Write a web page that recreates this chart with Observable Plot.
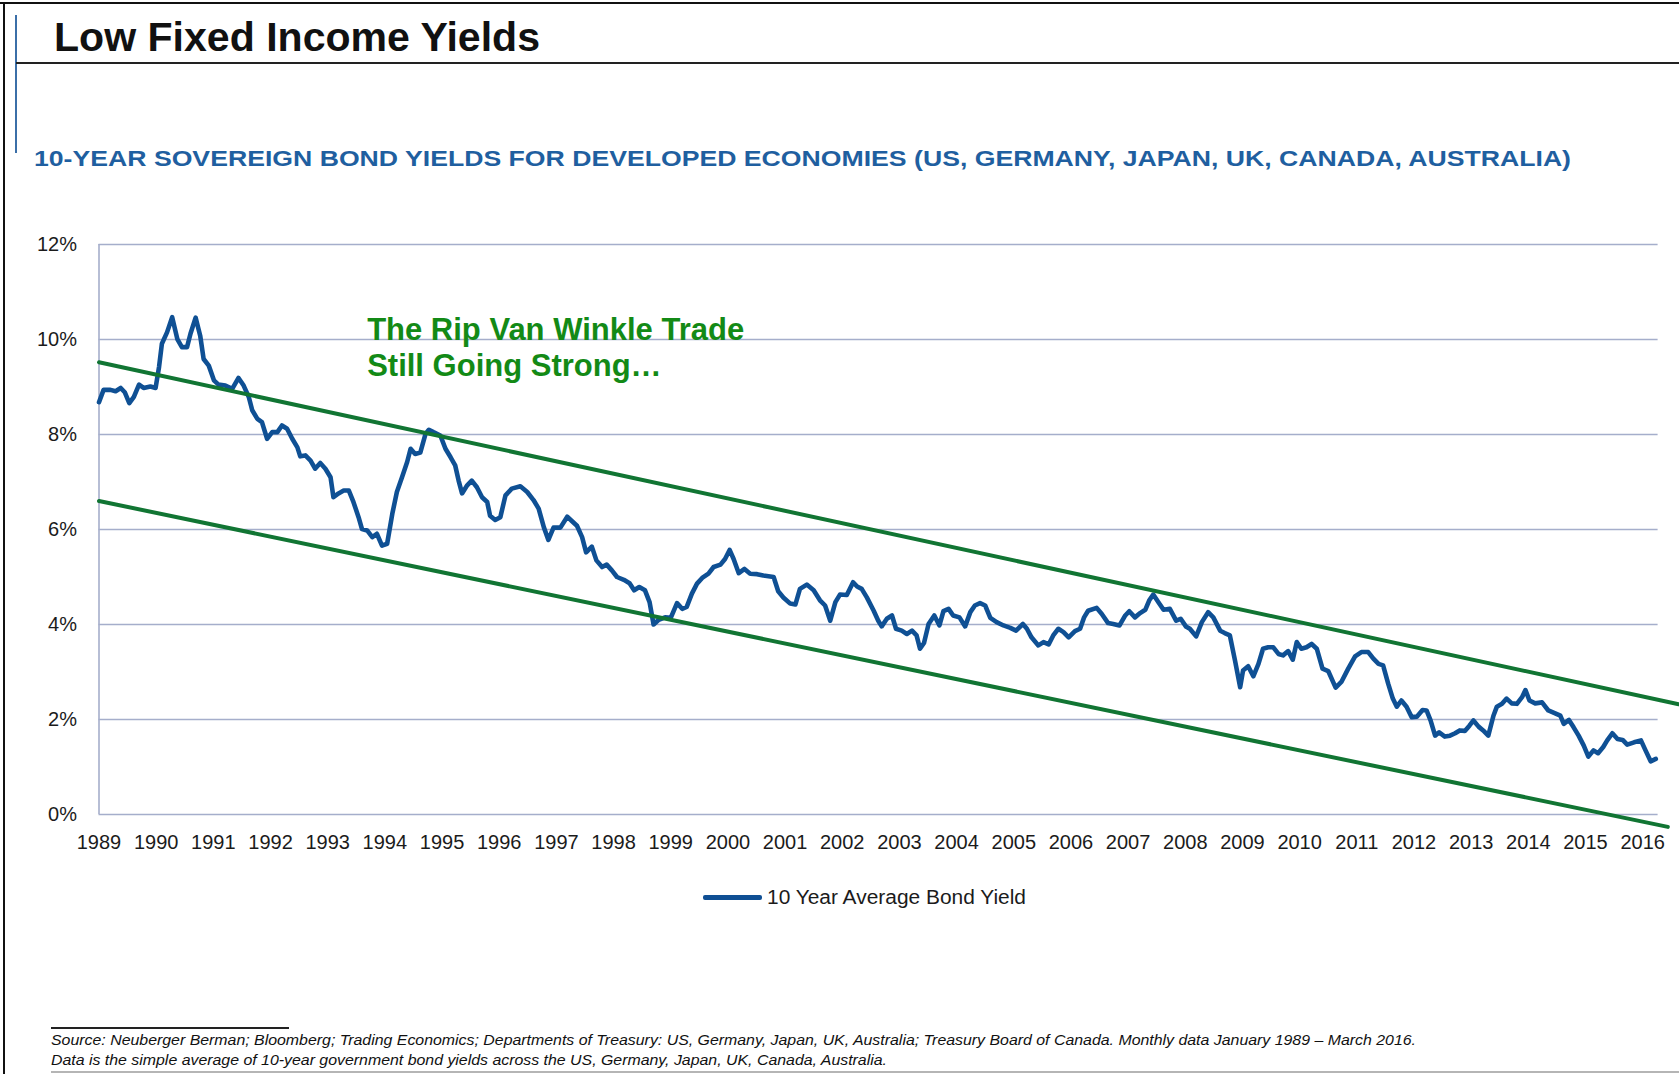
<!DOCTYPE html>
<html>
<head>
<meta charset="utf-8">
<script src="https://cdn.jsdelivr.net/npm/d3@7"></script>
<script src="https://cdn.jsdelivr.net/npm/@observablehq/plot@0.6"></script>
<style>
  html, body { margin: 0; padding: 0; background: #fff; }
  #page { position: relative; width: 1679px; height: 1074px; overflow: hidden; font-family: "Liberation Sans", Arial, sans-serif; }
  .abs { position: absolute; white-space: nowrap; transform-origin: 0 50%; }
  .rule { position: absolute; }
  #chart { position: absolute; left: 0; top: 200px; }
</style>
</head>
<body>
<div id="page">
  <div class="rule" style="left:0;top:2px;width:1679px;height:2px;background:#111;"></div>
  <div class="rule" style="left:3px;top:2px;width:2px;height:1072px;background:#111;"></div>
  <div class="rule" style="left:15px;top:15px;width:2px;height:138px;background:#3b6fa8;"></div>
  <div class="rule" style="left:16px;top:62px;width:1663px;height:1.5px;background:#222;"></div>
  <div id="title" class="abs" style="left:54px;top:17px;font-size:40px;line-height:40px;font-weight:bold;color:#111;">Low Fixed Income Yields</div>
  <div id="subtitle" class="abs" style="left:34px;top:148px;font-size:22px;line-height:22px;font-weight:bold;color:#1f5fa0;">10-YEAR SOVEREIGN BOND YIELDS FOR DEVELOPED ECONOMIES (US, GERMANY, JAPAN, UK, CANADA, AUSTRALIA)</div>
  <div id="chart"></div>
  <div class="rule" style="left:703px;top:894.5px;width:59px;height:5px;background:#0f4f94;border-radius:2px;"></div>
  <div id="legend" class="abs" style="left:767px;top:887px;font-size:20px;line-height:20px;color:#1b1b1b;">10 Year Average Bond Yield</div>
  <div class="rule" style="left:51px;top:1027px;width:238px;height:1.5px;background:#222;"></div>
  <div id="foot1" class="abs" style="left:51px;top:1033px;font-size:14px;line-height:14px;font-style:italic;color:#111;">Source: Neuberger Berman; Bloomberg; Trading Economics; Departments of Treasury: US, Germany, Japan, UK, Australia; Treasury Board of Canada. Monthly data January 1989 – March 2016.</div>
  <div id="foot2" class="abs" style="left:51px;top:1053px;font-size:14px;line-height:14px;font-style:italic;color:#111;">Data is the simple average of 10-year government bond yields across the US, Germany, Japan, UK, Canada, Australia.</div>
  <div class="rule" style="left:51px;top:1071px;width:1628px;height:2px;background:#b5b5b5;"></div>
</div>
<script>
const years = [
1989.00,1989.08,1989.20,1989.29,1989.38,1989.45,1989.53,1989.61,1989.70,1989.78,1989.90,1989.99,
1990.05,1990.10,1990.19,1990.28,1990.37,1990.45,1990.54,1990.60,1990.69,1990.77,1990.83,1990.92,
1991.01,1991.09,1991.21,1991.33,1991.44,1991.53,1991.62,1991.68,1991.77,1991.85,1991.94,
1992.03,1992.12,1992.20,1992.29,1992.38,1992.47,1992.52,1992.61,1992.70,1992.78,1992.87,1992.96,
1993.05,1993.10,1993.19,1993.28,1993.37,1993.45,1993.54,1993.60,1993.69,1993.78,1993.86,1993.95,
1994.04,1994.13,1994.21,1994.30,1994.39,1994.45,1994.53,1994.62,1994.71,1994.77,1994.85,1994.97,
1995.06,1995.15,1995.23,1995.29,1995.35,1995.44,1995.52,1995.61,1995.70,1995.79,1995.84,1995.93,
1996.02,1996.11,1996.22,1996.37,1996.49,1996.60,1996.69,1996.78,1996.86,1996.95,
1997.07,1997.19,1997.27,1997.36,1997.45,1997.52,1997.62,1997.70,1997.80,1997.88,1997.97,
1998.06,1998.18,1998.28,1998.36,1998.45,1998.55,1998.63,1998.70,1998.79,1998.90,
1999.00,1999.11,1999.20,1999.28,1999.37,1999.46,1999.55,1999.66,1999.75,1999.87,1999.95,
2000.03,2000.10,2000.19,2000.29,2000.39,2000.51,2000.62,2000.80,2000.88,2000.97,
2001.09,2001.18,2001.26,2001.38,2001.50,2001.61,2001.70,2001.79,2001.88,2001.96,
2002.08,2002.19,2002.26,2002.34,2002.43,2002.55,2002.63,2002.69,2002.78,2002.87,2002.94,
2003.04,2003.13,2003.22,2003.30,2003.36,2003.43,2003.51,2003.61,2003.70,2003.77,2003.86,2003.94,
2004.05,2004.15,2004.24,2004.32,2004.41,2004.50,2004.59,2004.70,2004.82,2004.94,
2005.04,2005.16,2005.23,2005.31,2005.43,2005.52,2005.61,2005.69,2005.78,2005.87,2005.96,
2006.07,2006.16,2006.23,2006.30,2006.45,2006.54,2006.65,2006.74,2006.85,2006.95,
2007.02,2007.12,2007.21,2007.30,2007.37,2007.44,2007.53,2007.62,2007.73,2007.84,2007.92,
2008.01,2008.08,2008.19,2008.29,2008.40,2008.49,2008.61,2008.69,2008.78,2008.87,2008.96,
2009.01,2009.10,2009.19,2009.28,2009.36,2009.45,2009.54,2009.63,2009.71,2009.80,2009.88,2009.95,
2010.03,2010.12,2010.21,2010.30,2010.40,2010.50,2010.63,2010.73,2010.85,2010.97,
2011.08,2011.20,2011.29,2011.38,2011.46,2011.55,2011.63,2011.70,2011.78,2011.87,2011.96,
2012.05,2012.15,2012.22,2012.29,2012.37,2012.44,2012.54,2012.63,2012.72,2012.80,2012.89,2012.97,
2013.04,2013.13,2013.21,2013.30,2013.39,2013.45,2013.54,2013.62,2013.71,2013.80,2013.89,2013.95,
2014.02,2014.12,2014.24,2014.35,2014.47,2014.56,2014.62,2014.71,2014.79,2014.88,2014.97,
2015.05,2015.14,2015.22,2015.31,2015.38,2015.47,2015.56,2015.65,2015.73,2015.85,2015.97,
2016.05,2016.14,2016.23
];
const yields = [
8.68,8.94,8.94,8.91,8.98,8.89,8.66,8.79,9.05,8.98,9.01,8.98,
9.42,9.91,10.15,10.47,10.01,9.84,9.84,10.12,10.46,10.08,9.59,9.45,
9.14,9.05,9.03,8.96,9.19,9.03,8.79,8.51,8.33,8.26,7.91,
8.05,8.05,8.19,8.12,7.91,7.73,7.54,7.56,7.45,7.28,7.40,7.28,
7.10,6.68,6.76,6.82,6.82,6.58,6.26,6.01,5.98,5.84,5.91,5.66,
5.70,6.33,6.79,7.10,7.42,7.70,7.59,7.62,8.01,8.10,8.05,7.98,
7.70,7.52,7.35,7.03,6.76,6.93,7.03,6.89,6.68,6.58,6.29,6.20,
6.26,6.72,6.86,6.91,6.79,6.62,6.44,6.05,5.78,6.04,
6.04,6.27,6.18,6.08,5.84,5.52,5.64,5.35,5.21,5.26,5.14,
5.00,4.94,4.87,4.72,4.79,4.72,4.47,4.00,4.10,4.15,
4.14,4.45,4.33,4.37,4.65,4.86,4.98,5.07,5.21,5.26,5.38,
5.57,5.38,5.08,5.17,5.07,5.06,5.03,5.00,4.70,4.57,
4.44,4.42,4.75,4.84,4.72,4.51,4.40,4.08,4.47,4.63,
4.62,4.89,4.80,4.75,4.57,4.29,4.08,3.96,4.12,4.19,3.91,
3.87,3.80,3.87,3.77,3.49,3.61,4.01,4.19,3.98,4.28,4.33,4.19,
4.15,3.96,4.26,4.40,4.45,4.40,4.14,4.05,3.98,3.93,
3.87,4.01,3.91,3.73,3.56,3.63,3.58,3.77,3.91,3.84,3.73,
3.86,3.91,4.15,4.29,4.35,4.22,4.03,4.01,3.98,4.19,
4.28,4.15,4.24,4.31,4.51,4.63,4.47,4.31,4.33,4.08,4.12,
3.96,3.91,3.75,4.05,4.26,4.15,3.87,3.82,3.77,3.24,2.68,
3.03,3.12,2.91,3.17,3.49,3.52,3.52,3.38,3.35,3.44,3.26,3.63,
3.49,3.52,3.59,3.49,3.07,3.02,2.67,2.79,3.07,3.33,
3.42,3.42,3.28,3.17,3.14,2.75,2.44,2.27,2.40,2.27,2.05,
2.06,2.20,2.19,1.98,1.66,1.73,1.64,1.66,1.71,1.77,1.76,1.87,
1.98,1.85,1.77,1.66,2.08,2.27,2.33,2.44,2.34,2.33,2.47,2.62,
2.40,2.34,2.36,2.19,2.13,2.08,1.91,1.99,1.84,1.66,1.45,
1.22,1.35,1.29,1.42,1.56,1.71,1.59,1.57,1.47,1.52,1.56,
1.35,1.12,1.17
];
const upperTrendYears = [1989, 2016.63];
const upperTrendValues = [9.52, 2.32];
const lowerTrendYears = [1989, 2016.44];
const lowerTrendValues = [6.60, -0.26];
const yearTicks = d3.range(1989, 2017);
const yTicks = [0, 2, 4, 6, 8, 10, 12];
const annotationLines = ["The Rip Van Winkle Trade", "Still Going Strong…"];
const annotationX = [1993.69, 1993.69];
const annotationY = [10.19, 9.43];

const series = years.map((t, i) => ({t, v: yields[i]}));
const upper = upperTrendYears.map((t, i) => ({t, v: upperTrendValues[i]}));
const lower = lowerTrendYears.map((t, i) => ({t, v: lowerTrendValues[i]}));
const annot = annotationLines.map((s, i) => ({s, t: annotationX[i], v: annotationY[i]}));

const chart = Plot.plot({
  width: 1679,
  height: 680,
  marginTop: 44,
  marginBottom: 66,
  marginLeft: 98.5,
  marginRight: 21.4,
  style: {fontFamily: "Liberation Sans, Arial, sans-serif", fontSize: "20px", color: "#1b1b1b", background: "transparent", overflow: "visible"},
  x: {type: "linear", domain: [1989, 2016.27], ticks: yearTicks, tickFormat: d => String(d), tickSize: 0, tickPadding: 20, label: null},
  y: {domain: [0, 12], ticks: yTicks, tickFormat: d => d + "%", tickSize: 0, tickPadding: 22, label: null},
  marks: [
    Plot.gridY(yTicks, {stroke: "#a5aecb", strokeOpacity: 1, strokeWidth: 1.6}),
    Plot.ruleX([1989], {y1: 0, y2: 12, stroke: "#a5aecb", strokeWidth: 1.6}),
    Plot.line(series, {x: "t", y: "v", stroke: "#0f5094", strokeWidth: 4.6, strokeLinejoin: "round", strokeLinecap: "round"}),
    Plot.line(upper, {x: "t", y: "v", stroke: "#117533", strokeWidth: 4}),
    Plot.line(lower, {x: "t", y: "v", stroke: "#117533", strokeWidth: 4}),
    Plot.text(annot, {x: "t", y: "v", text: "s", textAnchor: "start", fill: "#138a16", fontSize: 31, fontWeight: "bold"})
  ]
});
document.getElementById("chart").appendChild(chart);

function fit(id, w) {
  const el = document.getElementById(id);
  const cur = el.getBoundingClientRect().width;
  if (cur > 0) el.style.transform = `scaleX(${w / cur})`;
}
fit("title", 486);
fit("subtitle", 1537);
fit("legend", 259);
fit("foot1", 1365);
fit("foot2", 836);
</script>
</body>
</html>
